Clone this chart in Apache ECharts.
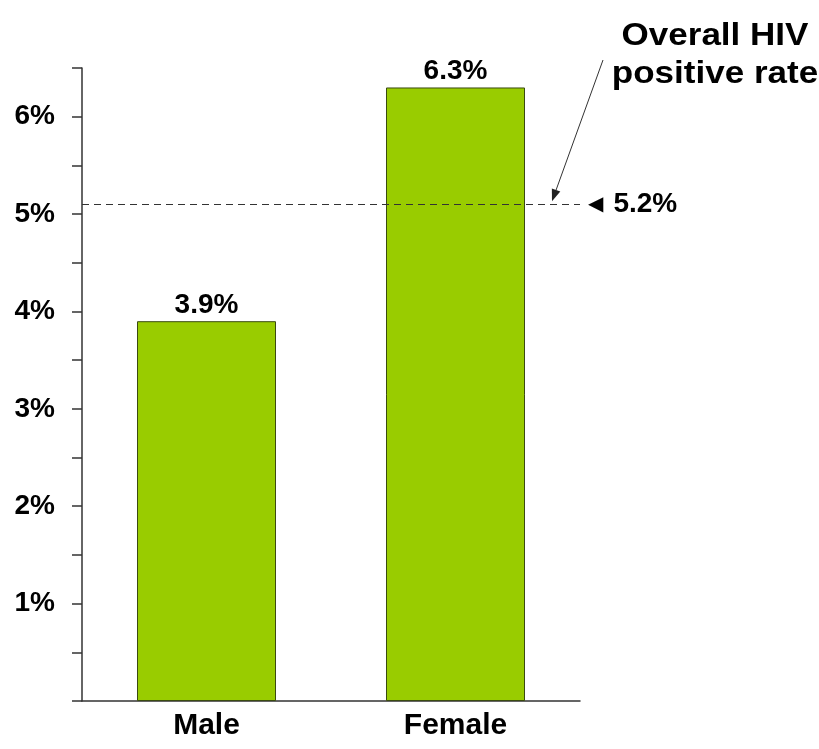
<!DOCTYPE html>
<html><head><meta charset="utf-8">
<script src="https://cdn.jsdelivr.net/npm/echarts@6/dist/echarts.min.js"></script>
<style>html,body{margin:0;padding:0;background:#fff}#c{width:819px;height:749px}</style>
</head><body><div id="c"></div>
<script>
// ---- data ----
const categories = ['Male', 'Female'];
const rates = [3.9, 6.3];
const overallRateLabel = '5.2%';
const overallLineLevel = 5.1; // level at which the reference draws the dashed line
const annotationLines = ['Overall HIV', 'positive rate'];

const FONT = '"Liberation Sans", Arial, sans-serif';
const chart = echarts.init(document.getElementById('c'), null, {renderer: 'canvas'});

const GRID = {left: 82, right: 239, top: 68, bottom: 48};

chart.setOption({
  animation: false,
  backgroundColor: '#ffffff',
  grid: GRID,
  xAxis: {
    type: 'category',
    data: categories,
    axisLine: {lineStyle: {color: '#333', width: 1.5}},
    axisTick: {show: false},
    axisLabel: {color: '#000', fontFamily: FONT, fontWeight: 'bold', fontSize: 30, margin: 10}
  },
  yAxis: {
    type: 'value',
    min: 0, max: 6.5, interval: 0.5,
    axisLine: {show: true, lineStyle: {color: '#333', width: 1.5}},
    axisTick: {show: true, length: 10, lineStyle: {color: '#333', width: 1.5}},
    splitLine: {show: false},
    axisLabel: {
      color: '#000', fontFamily: FONT, fontWeight: 'bold', fontSize: 28, margin: 27,
      formatter: v => (Number.isInteger(v) && v > 0 && v <= 6) ? v + '%' : ''
    }
  },
  series: [{
    type: 'bar',
    data: rates,
    barWidth: 139,
    itemStyle: {color: '#99cc00', borderColor: '#3a4a10', borderWidth: 1},
    label: {
      show: true, position: 'top', distance: 2,
      color: '#000', fontFamily: FONT, fontWeight: 'bold', fontSize: 28,
      formatter: p => p.value.toFixed(1) + '%'
    },
    markLine: {
      silent: true,
      symbol: ['none', 'none'],
      lineStyle: {color: '#333', type: [7, 5], width: 1},
      label: {
        show: true, position: 'end', distance: 8,
        formatter: '{t|◀}{v|' + overallRateLabel + '}',
        rich: {
          t: {fontFamily: '"DejaVu Sans", sans-serif', fontSize: 20, color: '#000', padding: [0, 10, 0, 0]},
          v: {fontFamily: FONT, fontWeight: 'bold', fontSize: 28, color: '#000'}
        }
      },
      data: [{yAxis: overallLineLevel}]
    }
  }]
});

// annotation: text + arrow pointing onto the dashed line
const tipY = chart.convertToPixel({yAxisIndex: 0}, overallLineLevel) - 3;
const tipX = 819 - GRID.right - 28;
const startX = tipX + 51, startY = 60;
const ang = Math.atan2(tipY - startY, tipX - startX);
const ah = 12, aw = 4.5;
const bx = tipX - ah * Math.cos(ang), by = tipY - ah * Math.sin(ang);
const px = -Math.sin(ang) * aw, py = Math.cos(ang) * aw;

chart.setOption({
  graphic: [
    {
      type: 'text', x: 715, y: 17, scaleX: 1.13,
      style: {
        text: annotationLines.join('\n'),
        fontFamily: FONT, fontWeight: 'bold', fontSize: 31, lineHeight: 38,
        fill: '#000', textAlign: 'center'
      }
    },
    {
      type: 'line',
      shape: {x1: startX, y1: startY, x2: bx, y2: by},
      style: {stroke: '#333', lineWidth: 1}
    },
    {
      type: 'polygon',
      shape: {points: [[tipX, tipY], [bx + px, by + py], [bx - px, by - py]]},
      style: {fill: '#222'}
    }
  ]
});
</script></body></html>
